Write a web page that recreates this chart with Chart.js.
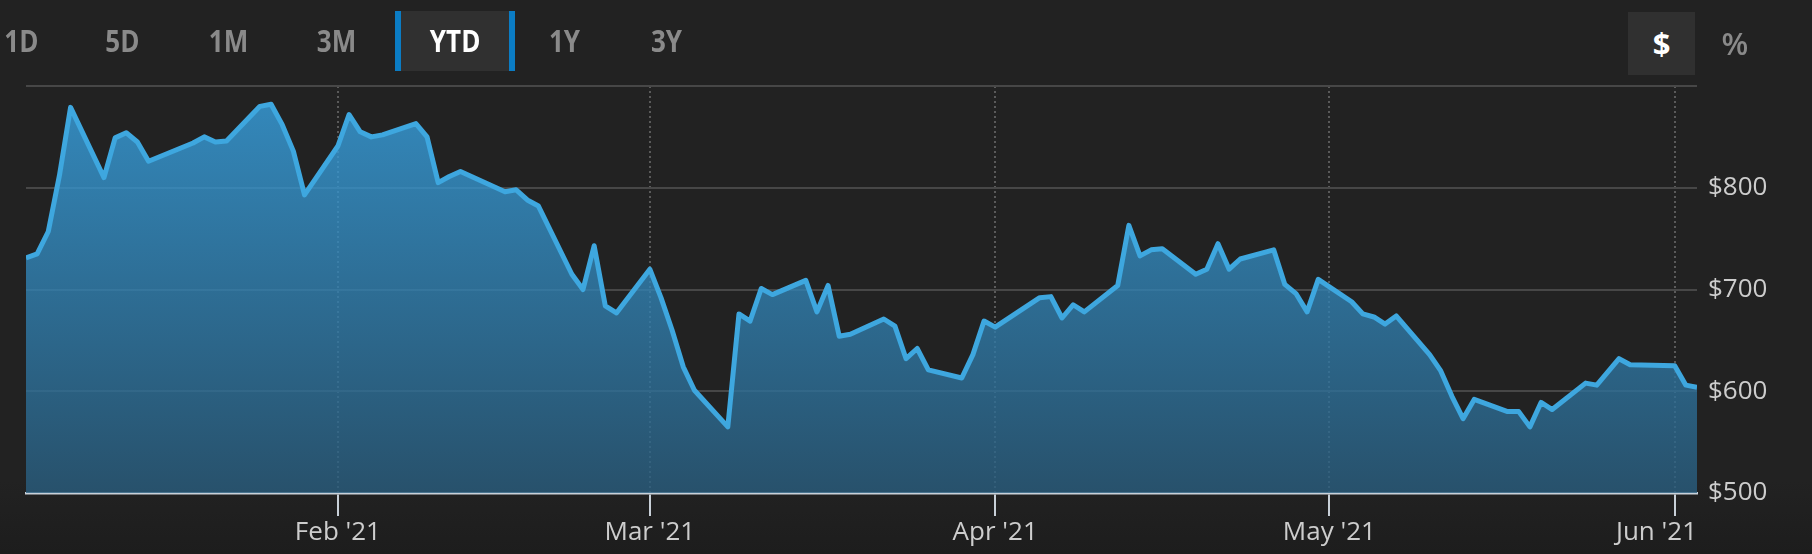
<!DOCTYPE html>
<html>
<head>
<meta charset="utf-8">
<title>YTD price</title>
<script src="https://cdn.jsdelivr.net/npm/chart.js@4.4.1/dist/chart.umd.min.js"></script>
<style>
  html, body { margin: 0; padding: 0; }
  body {
    width: 1812px; height: 554px; overflow: hidden;
    background: linear-gradient(#222222 0, #222222 480px, #1d1d1d 554px);
    font-family: 'Open Sans', sans-serif;
  }
  #wrap { position: relative; width: 1812px; height: 554px; }
  #chart { position: absolute; left: 0; top: 0; }
  .btn {
    position: absolute; top: 11px; height: 60px; line-height: 58px;
    color: #8a8a8a; font-weight: 700; font-size: 31px; text-align: center;
  }
  .btn span { display: inline-block; transform: scaleX(0.84); }
  .btn.active { color: #fff; background: #303030; border-left: 6px solid #0b7cc4; border-right: 6px solid #0b7cc4; box-sizing: border-box; }
  .unit { position: absolute; top: 12px; height: 63px; line-height: 62px; text-align: center; font-weight: 700; font-size: 31px; color: #8a8a8a; }
  .unit.active { background: #303030; color: #fff; }
</style>
</head>
<body>
<div id="wrap">
  <canvas id="chart" width="1812" height="554"></canvas>
  <div class="btn" style="left:-9px;width:60px"><span>1D</span></div>
  <div class="btn" style="left:92px;width:60px"><span>5D</span></div>
  <div class="btn" style="left:198px;width:60px"><span>1M</span></div>
  <div class="btn" style="left:306px;width:60px"><span>3M</span></div>
  <div class="btn active" style="left:395px;width:120px"><span>YTD</span></div>
  <div class="btn" style="left:535px;width:60px"><span>1Y</span></div>
  <div class="btn" style="left:637px;width:60px"><span>3Y</span></div>
  <div class="unit active" style="left:1628px;width:67px">$</div>
  <div class="unit" style="left:1705px;width:60px;font-weight:600">%</div>
</div>
<script>
// trading days and closing prices
const dates = [
  '2021-01-04','2021-01-05','2021-01-06','2021-01-07','2021-01-08',
  '2021-01-11','2021-01-12','2021-01-13','2021-01-14','2021-01-15',
  '2021-01-19','2021-01-20','2021-01-21','2021-01-22',
  '2021-01-25','2021-01-26','2021-01-27','2021-01-28','2021-01-29',
  '2021-02-01','2021-02-02','2021-02-03','2021-02-04','2021-02-05',
  '2021-02-08','2021-02-09','2021-02-10','2021-02-11','2021-02-12',
  '2021-02-16','2021-02-17','2021-02-18','2021-02-19',
  '2021-02-22','2021-02-23','2021-02-24','2021-02-25','2021-02-26',
  '2021-03-01','2021-03-02','2021-03-03','2021-03-04','2021-03-05',
  '2021-03-08','2021-03-09','2021-03-10','2021-03-11','2021-03-12',
  '2021-03-15','2021-03-16','2021-03-17','2021-03-18','2021-03-19',
  '2021-03-22','2021-03-23','2021-03-24','2021-03-25','2021-03-26',
  '2021-03-29','2021-03-30','2021-03-31','2021-04-01',
  '2021-04-05','2021-04-06','2021-04-07','2021-04-08','2021-04-09',
  '2021-04-12','2021-04-13','2021-04-14','2021-04-15','2021-04-16',
  '2021-04-19','2021-04-20','2021-04-21','2021-04-22','2021-04-23',
  '2021-04-26','2021-04-27','2021-04-28','2021-04-29','2021-04-30',
  '2021-05-03','2021-05-04','2021-05-05','2021-05-06','2021-05-07',
  '2021-05-10','2021-05-11','2021-05-12','2021-05-13','2021-05-14',
  '2021-05-17','2021-05-18','2021-05-19','2021-05-20','2021-05-21',
  '2021-05-24','2021-05-25','2021-05-26','2021-05-27','2021-05-28',
  '2021-06-01','2021-06-02','2021-06-03'
];
const prices = [
  731, 735, 757, 812, 879,
  810, 849, 854, 845, 826,
  844, 850, 845, 846,
  880, 882, 862, 836, 793,
  841, 872, 855, 850, 852,
  863, 850, 805, 811, 816,
  796, 798, 788, 782,
  715, 700, 743, 684, 677,
  720, 692, 660, 624, 601,
  565, 676, 669, 701, 695,
  709, 678, 704, 654, 656,
  671, 664, 632, 642, 621,
  613, 636, 669, 663,
  692, 693, 672, 685, 678,
  704, 763, 733, 739, 740,
  715, 720, 745, 720, 730,
  739, 705, 696, 678, 710,
  688, 676, 673, 666, 674,
  636, 620, 595, 573, 592,
  580, 580, 565, 589, 582,
  608, 606, 619, 632, 626,
  625, 606, 604
];
const monthTickDates = ['2021-02-01', '2021-03-01', '2021-04-01', '2021-05-01', '2021-06-01'];
const monthTickLabels = ["Feb '21", "Mar '21", "Apr '21", "May '21", "Jun '21"];
const priceTicks = [500, 600, 700, 800, 900];
const rangeStart = '2021-01-04';
const rangeEnd = '2021-06-03';

// days since Jan 1 2021
function dayNum(s) {
  const p = s.split('-').map(Number);
  return (Date.UTC(p[0], p[1] - 1, p[2]) - Date.UTC(2021, 0, 1)) / 86400000;
}

const labelFont = { family: 'Open Sans', size: 26 };

// month labels under the x axis, kept inside the plot's right edge
const monthLabels = {
  id: 'monthLabels',
  afterDraw(chart) {
    const x = chart.scales.x, area = chart.chartArea, c = chart.ctx;
    c.save();
    c.font = labelFont.size + 'px "' + labelFont.family + '"';
    c.fillStyle = '#cdcdcd';
    c.textAlign = 'center';
    c.textBaseline = 'middle';
    monthTickDates.forEach((d, i) => {
      const txt = monthTickLabels[i];
      const half = c.measureText(txt).width / 2;
      let px = x.getPixelForValue(dayNum(d));
      if (px + half > area.right) px = area.right - half;
      c.fillText(txt, px, area.bottom + 40);
    });
    c.restore();
  }
};

new Chart(document.getElementById('chart').getContext('2d'), {
  type: 'line',
  data: {
    datasets: [{
      data: dates.map((d, i) => ({ x: dayNum(d), y: prices[i] })),
      borderColor: '#3ea7df',
      borderWidth: 5,
      borderJoinStyle: 'round',
      pointRadius: 0,
      tension: 0,
      fill: 'start',
      backgroundColor: function(c) {
        const area = c.chart.chartArea;
        if (!area) return 'rgba(50,120,170,0.8)';
        const g = c.chart.ctx.createLinearGradient(0, area.top, 0, area.bottom);
        g.addColorStop(0, 'rgba(57,165,230,0.8)');
        g.addColorStop(1, 'rgba(42,94,127,0.8)');
        return g;
      }
    }]
  },
  options: {
    responsive: false,
    animation: false,
    layout: { padding: { top: 86, left: 26, right: 0, bottom: 0 } },
    plugins: { legend: { display: false }, tooltip: { enabled: false } },
    scales: {
      x: {
        type: 'linear',
        min: dayNum(rangeStart),
        max: dayNum(rangeEnd),
        afterBuildTicks: s => { s.ticks = monthTickDates.map(d => ({ value: dayNum(d) })); },
        afterFit: s => { s.height = 61; },
        grid: {
          color: '#5a5a5a', lineWidth: 2,
          drawTicks: true, tickLength: 23, tickColor: '#c8d0d8', tickWidth: 2, tickBorderDash: []
        },
        border: { display: true, color: '#c9d1d9', width: 2.5, dash: [2, 3] },
        ticks: { display: false }
      },
      y: {
        position: 'right',
        min: 500,
        max: 900,
        afterBuildTicks: s => { s.ticks = priceTicks.map(v => ({ value: v })); },
        afterFit: s => { s.width = 115; },
        grid: { color: '#474747', lineWidth: 2, drawTicks: false },
        border: { display: false },
        ticks: {
          color: '#cdcdcd', font: labelFont, padding: 11,
          callback: v => (v === 900 ? '' : '$' + v)
        }
      }
    }
  },
  plugins: [monthLabels]
});
</script>
</body>
</html>
